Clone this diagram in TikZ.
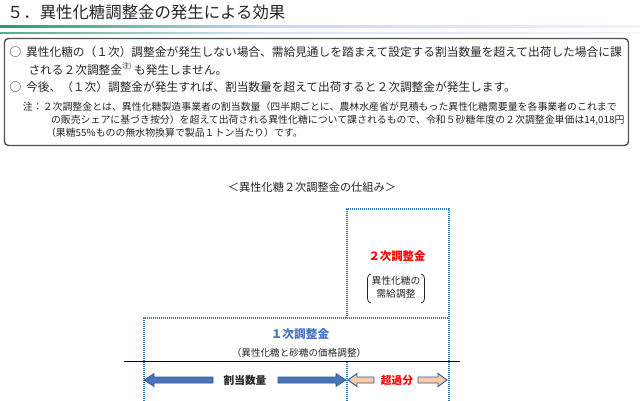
\documentclass[tikz,border=0pt]{standalone}
\usepackage{fontspec}
\setmainfont{Noto Sans CJK JP}
\definecolor{hdgreen}{HTML}{1E9E6E}
\definecolor{hdblue}{HTML}{C9D5EE}
\definecolor{hdpale}{HTML}{F2F4FB}
\definecolor{boxgray}{HTML}{505050}
\definecolor{dotblue}{HTML}{2E75B6}
\definecolor{txtblue}{HTML}{4472C4}
\definecolor{arrblue}{HTML}{4A74B8}
\definecolor{arredge}{HTML}{2F5597}
\definecolor{arrorange}{HTML}{F8CBA6}
\definecolor{txtgray}{HTML}{262626}
\begin{document}
\begin{tikzpicture}[x=1pt,y=-1pt,
  every node/.style={inner sep=0pt, outer sep=0pt, text=txtgray},
  dotbox/.style={draw=dotblue, line width=1.1pt, dash pattern=on 1pt off 1pt},
  body/.style={font=\fontsize{11.7}{13}\selectfont, anchor=west},
  note/.style={font=\fontsize{9.9}{11}\selectfont, anchor=west},
  small/.style={font=\fontsize{9.6}{11}\selectfont},
  barrow/.style={fill=arrblue, draw=arredge, line width=0.6pt, line join=miter},
  oarrow/.style={fill=arrorange, draw=arredge, line width=0.9pt, line join=miter}]
\useasboundingbox (0,0) rectangle (640,401);
% title
\node[anchor=west, font=\fontsize{16.4}{18}\selectfont] (title) at (7,12) {５．異性化糖調整金の発生による効果};
\shade[left color=hdgreen, right color=hdblue] (0,25.5) rectangle (260,27.6);
\shade[left color=hdblue, right color=hdpale] (260,25.5) rectangle (640,27.6);
\shade[left color=hdgreen!80, right color=hdblue!70] (0,32.6) rectangle (260,33.6);
\shade[left color=hdblue!70, right color=hdpale] (260,32.6) rectangle (640,33.6);
% box
\draw[rounded corners=4pt, draw=boxgray, line width=1.4pt] (4.5,38.5) rectangle (628.5,145.5);
\node[body] (l1) at (9.5,52) {○\hspace{5pt}異性化糖の（１次）調整金が発生しない場合、需給見通しを踏まえて設定する割当数量を超えて出荷した場合に課};
\node[body] (l2) at (28.5,69) {される２次調整金\raisebox{0.45em}{\fontsize{7}{8}\selectfont 注)} も発生しません。};
\node[body] (l3) at (9.5,87) {○\hspace{5pt}今後、（１次）調整金が発生すれば、割当数量を超えて出荷すると２次調整金が発生します。};
\node[note] (n1) at (23,107) {注：２次調整金とは、異性化糖製造事業者の割当数量（四半期ごとに、農林水産省が見積もった異性化糖需要量を各事業者のこれまで};
\node[note] (n2) at (51,120) {の販売シェアに基づき按分）を超えて出荷される異性化糖について課されるもので、令和５砂糖年度の２次調整金単価は14,018円};
\node[note] (n3) at (46,133) {（果糖55\%ものの無水物換算で製品１トン当たり）です。};
% caption
\node[font=\fontsize{11.2}{13}\selectfont] (cap) at (312,187) {＜異性化糖２次調整金の仕組み＞};
% dotted boxes
\coordinate (a1) at (347,318);
\coordinate (a2) at (347,209);
\coordinate (a3) at (449,209);
\coordinate (a4) at (449,401);
\coordinate (b1) at (144,401);
\coordinate (b2) at (144,318);
\coordinate (b3) at (449,318);
\coordinate (c1) at (347,362);
\coordinate (c2) at (347,401);
\draw[dotbox] (a1) -- (a2) -- (a3) -- (a4);
\draw[dotbox] (b1) -- (b2) -- (b3);
\draw[dotbox] (c1) -- (c2);
% baseline
\coordinate (h1) at (124,361);
\coordinate (h2) at (460,361);
\draw[line width=1pt, black] (h1) -- (h2);
% labels
\node[font=\fontsize{11.7}{13}\selectfont\bfseries, text=txtblue] (k1) at (300,334) {１次調整金};
\node[small] (k1s) at (299,353) {（異性化糖と砂糖の価格調整）};
\node[font=\fontsize{11.4}{13}\selectfont\bfseries, text=red] (k2) at (397,256) {２次調整金};
\node[align=center, font=\fontsize{9.8}{13.5}\selectfont] (k2s) at (396,287.5) {異性化糖の\\需給調整};
\draw[line width=0.8pt, txtgray] (371,274) to[out=180,in=90] (367.5,278.5) -- (367.5,298.5) to[out=-90,in=180] (371,303);
\draw[line width=0.8pt, txtgray] (421,274) to[out=0,in=90] (424.5,278.5) -- (424.5,298.5) to[out=-90,in=0] (421,303);
% arrows
\draw[barrow] (144,380) -- (154,373.5) -- (154,377) -- (213,377) -- (213,383) -- (154,383) -- (154,386.5) -- cycle;
\draw[barrow] (346,380) -- (336,373.5) -- (336,377) -- (278,377) -- (278,383) -- (336,383) -- (336,386.5) -- cycle;
\node[font=\fontsize{10.7}{12}\selectfont\bfseries] (q1) at (245,380) {割当数量};
\draw[oarrow] (348,380) -- (357,373.5) -- (357,377) -- (374,377) -- (374,383) -- (357,383) -- (357,386.5) -- cycle;
\draw[oarrow] (447,380) -- (438,373.5) -- (438,377) -- (418,377) -- (418,383) -- (438,383) -- (438,386.5) -- cycle;
\node[font=\fontsize{10.7}{12}\selectfont\bfseries, text=red] (q2) at (397,380) {超過分};
\end{tikzpicture}
\end{document}
